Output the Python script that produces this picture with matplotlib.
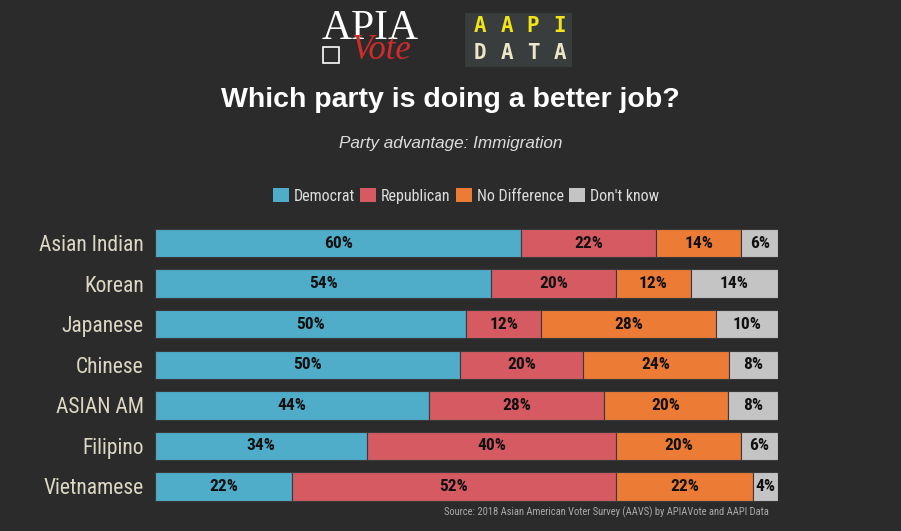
import numpy as np
import matplotlib.pyplot as plt
from matplotlib.patches import Rectangle
import matplotlib.font_manager as fm

groups = ['Asian Indian', 'Korean', 'Japanese', 'Chinese', 'ASIAN AM', 'Filipino', 'Vietnamese']
democrat = [60, 54, 50, 50, 44, 34, 22]
republican = [22, 20, 12, 20, 28, 40, 52]
no_diff = [14, 12, 28, 24, 20, 20, 22]
dont_know = [6, 14, 10, 8, 8, 6, 4]

series_names = ['Democrat', 'Republican', 'No Difference', "Don't know"]
colors = ['#4fadc9', '#d55a62', '#ec7b35', '#c4c4c4']
bg = '#2b2b2b'

names = sorted({f.name for f in fm.fontManager.ttflist})
narrow = 'DejaVu Sans'
for cand in ['Roboto Condensed', 'Open Sans Condensed', 'Liberation Sans Narrow', 'Roboto']:
    if cand in names:
        narrow = cand
        break

vals = np.array([democrat, republican, no_diff, dont_know], dtype=float)
totals = vals.sum(axis=0)
shares = vals / totals * 100

fig = plt.figure(figsize=(9.01, 5.31), dpi=100, facecolor=bg)
ax = fig.add_axes([0.172, 0.0457, 0.6915, 0.5348], facecolor=bg)

y = np.arange(len(groups))
left = np.zeros(len(groups))
for i in range(4):
    ax.barh(y, shares[i], left=left, height=0.7, color=colors[i],
            edgecolor='#3a3a3a', linewidth=0.8)
    for j in range(len(groups)):
        ax.text(left[j] + shares[i][j] / 2, y[j], f'{int(vals[i][j])}%',
                ha='center', va='center', fontsize=12.5, fontweight='bold',
                family=narrow, color='#111111')
    left += shares[i]

ax.set_xlim(0, 100)
ax.set_ylim(len(groups) - 0.5, -0.5)
ax.set_yticks(y)
ax.set_yticklabels(groups, family=narrow, fontsize=15.5, color='#ddd8c4')
ax.tick_params(axis='y', length=0, pad=8)
ax.set_xticks([])
for s in ax.spines.values():
    s.set_visible(False)

# legend
handles = [Rectangle((0, 0), 1, 1, facecolor=c, edgecolor='none') for c in colors]
leg = fig.legend(handles, series_names, loc='center', bbox_to_anchor=(0.517, 0.631),
                 ncol=4, frameon=False, handlelength=1.0, handleheight=1.0,
                 handletextpad=0.3, columnspacing=0.35,
                 prop={'family': narrow, 'size': 11.5})
for t in leg.get_texts():
    t.set_color('#dddddd')

fig.text(0.5, 0.812, 'Which party is doing a better job?', ha='center', va='center',
         fontsize=20.5, fontweight='bold', color='white', family='Liberation Sans')
fig.text(0.5, 0.730, 'Party advantage: Immigration', ha='center', va='center',
         fontsize=12.3, style='italic', color='#dddddd', family='Liberation Sans')
fig.text(0.853, 0.035, 'Source: 2018 Asian American Voter Survey (AAVS) by APIAVote and AAPI Data',
         ha='right', va='center', fontsize=7.6, color='#aaaaaa', family=narrow)

# logos
fig.text(0.411, 0.945, 'APIA', ha='center', va='center', fontsize=30,
         family='Liberation Serif', color='white')
fig.text(0.423, 0.905, 'Vote', ha='center', va='center', fontsize=25,
         family='Liberation Serif', style='italic', color='#d12b2b')
fig.patches.append(Rectangle((0.358, 0.882), 0.018, 0.03, transform=fig.transFigure,
                             fill=False, edgecolor='white', linewidth=1.2))
fig.patches.append(Rectangle((0.516, 0.874), 0.119, 0.102, transform=fig.transFigure,
                             facecolor='#3a3d3d', edgecolor='none'))
letter_x = [0.533, 0.5625, 0.5915, 0.6215]
for lx, a, b in zip(letter_x, 'AAPI', 'DATA'):
    fig.text(lx, 0.951, a, ha='center', va='center', fontsize=15,
             family='DejaVu Sans Mono', fontweight='bold', color='#f0e41a')
    fig.text(lx, 0.901, b, ha='center', va='center', fontsize=15,
             family='DejaVu Sans Mono', fontweight='bold', color='#ece7c8')

fig.savefig('out.png', dpi=100, facecolor=bg)
